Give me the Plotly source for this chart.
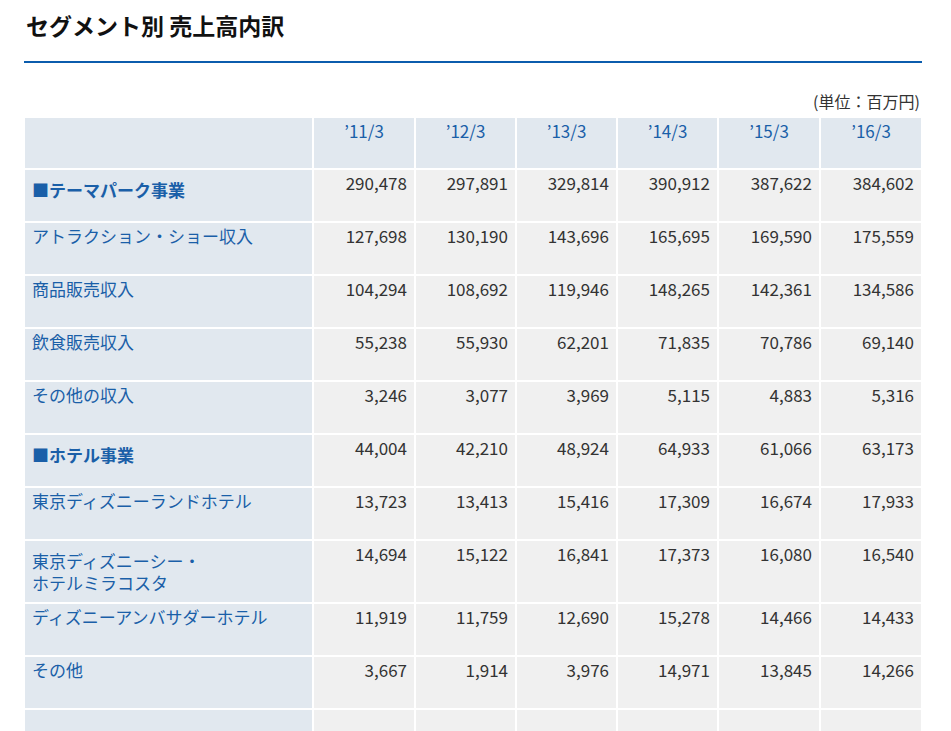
import plotly.graph_objects as go

# the page body adds an 8px margin, so the figure is laid out in page coords minus 8
OFF = 8
W, H = 951 - 2 * OFF, 731 - OFF

years = ["’11/3", "’12/3", "’13/3", "’14/3", "’15/3", "’16/3"]
labels = [
    "<b>■テーマパーク事業</b>",
    "アトラクション・ショー収入",
    "商品販売収入",
    "飲食販売収入",
    "その他の収入",
    "<b>■ホテル事業</b>",
    "東京ディズニーランドホテル",
    "東京ディズニーシー・<br>ホテルミラコスタ",
    "ディズニーアンバサダーホテル",
    "その他",
    "",
]
v11 = [290478, 127698, 104294, 55238, 3246, 44004, 13723, 14694, 11919, 3667]
v12 = [297891, 130190, 108692, 55930, 3077, 42210, 13413, 15122, 11759, 1914]
v13 = [329814, 143696, 119946, 62201, 3969, 48924, 15416, 16841, 12690, 3976]
v14 = [390912, 165695, 148265, 71835, 5115, 64933, 17309, 17373, 15278, 14971]
v15 = [387622, 169590, 142361, 70786, 4883, 61066, 16674, 16080, 14466, 13845]
v16 = [384602, 175559, 134586, 69140, 5316, 63173, 17933, 16540, 14433, 14266]

FONT = "Noto Sans CJK JP"
BLUE = "#1a5fa8"
LABEL_BG = "#e1e8ef"
CELL_BG = "#f0f0f0"


def col(vals):
    return [f"{v:,}" for v in vals] + [""]


def px_x(x):
    return (x - OFF) / W


def px_y(y):
    return 1 - (y - OFF) / H


value_cols = [col(v) for v in (v11, v12, v13, v14, v15, v16)]

x0, x1 = px_x(24), px_x(922)
fig = go.Figure(
    go.Table(
        domain=dict(x=[x0, x1], y=[0, px_y(117)]),
        columnwidth=[289, 102, 101, 101, 101, 102, 102],
        header=dict(
            values=[""] + years,
            fill_color=LABEL_BG,
            line=dict(color="white", width=2),
            align="center",
            height=52,
            font=dict(family=FONT, size=17, color=BLUE),
        ),
        cells=dict(
            values=[labels] + value_cols,
            fill_color=[[LABEL_BG] * len(labels)] + [[CELL_BG] * len(labels)] * 6,
            line=dict(color="white", width=2),
            align=["left"] + ["right"] * 6,
            height=53,
            font=dict(family=FONT, size=17, color=[BLUE] + ["#333333"] * 6),
        ),
    )
)

fig.add_shape(type="line", xref="paper", yref="paper", x0=x0, x1=x1,
              y0=px_y(62), y1=px_y(62), line=dict(color="#0b5cad", width=2))
fig.add_annotation(text="<b>セグメント別 売上高内訳</b>", xref="paper", yref="paper",
                   x=x0, y=px_y(25), xanchor="left", yanchor="middle", showarrow=False,
                   font=dict(family=FONT, size=23, color="#111111"))
fig.add_annotation(text="(単位：百万円)", xref="paper", yref="paper",
                   x=x1, y=px_y(101), xanchor="right", yanchor="middle", showarrow=False,
                   font=dict(family=FONT, size=16, color="#333333"))

fig.update_layout(width=W, height=H, margin=dict(l=0, r=0, t=0, b=0),
                  paper_bgcolor="white", plot_bgcolor="white")
fig.write_html("out.html")
